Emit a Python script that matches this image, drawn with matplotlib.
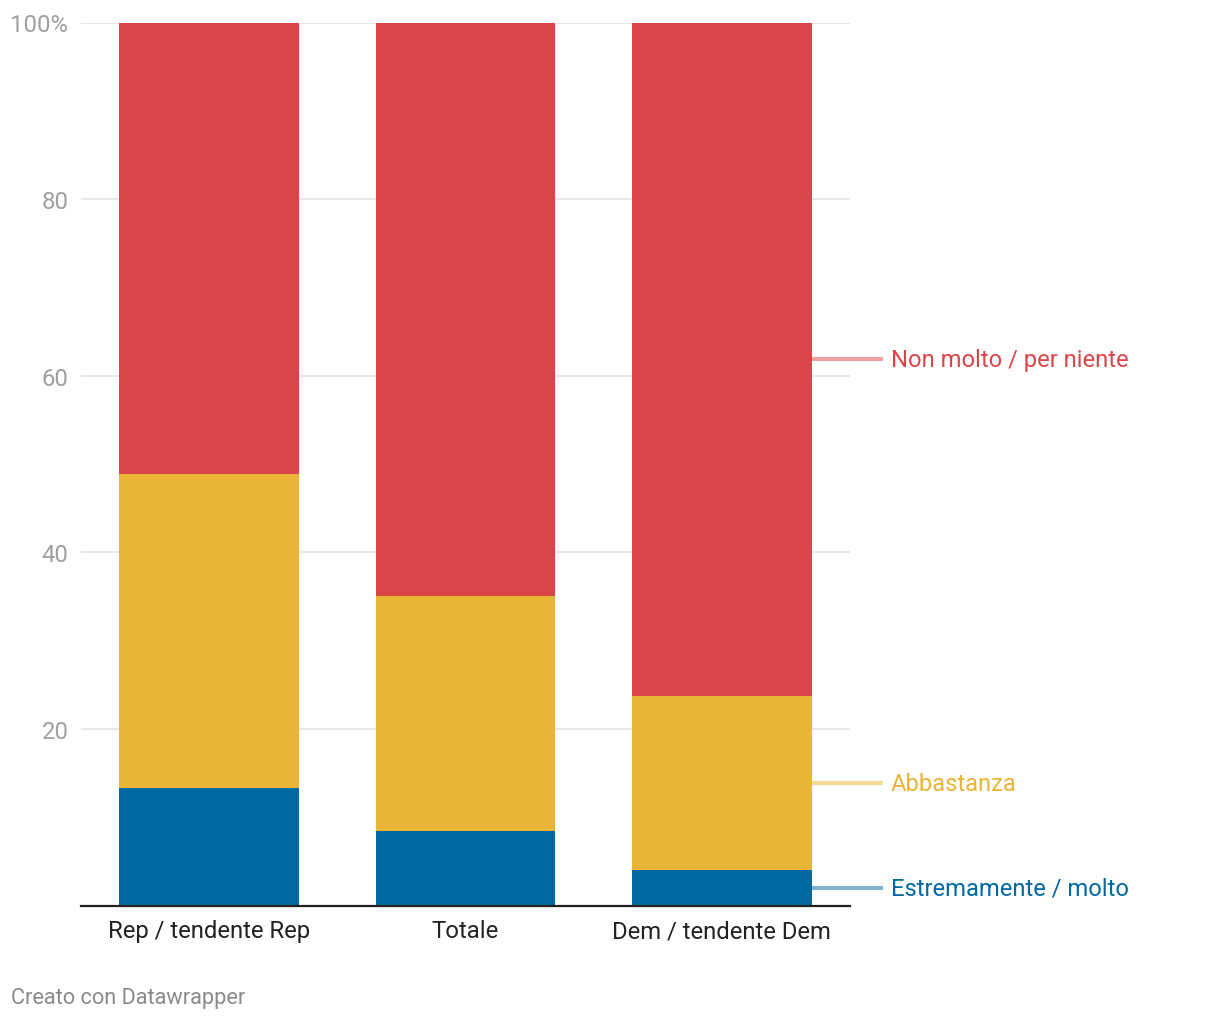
import numpy as np
import matplotlib.pyplot as plt

# Data
categories = ["Rep / tendente Rep", "Totale", "Dem / tendente Dem"]
series_names = ["Estremamente / molto", "Abbastanza", "Non molto / per niente"]
molto = [13.3, 8.4, 4.0]
abbastanza = [35.6, 26.6, 19.7]
non_molto = [51.1, 65.0, 76.3]
colors = ["#0069a3", "#eab435", "#db4549"]
ytick_vals = [20, 40, 60, 80, 100]
ytick_labels = ["20", "40", "60", "80", "100%"]

plt.rcParams['font.family'] = ['Roboto', 'DejaVu Sans']

fig = plt.figure(figsize=(12.2, 10.2), dpi=100)
ax = fig.add_axes([81 / 1220, 1 - 906.5 / 1020, 769 / 1220, 883 / 1020])

x = np.arange(len(categories))
width = 0.70
bottom = np.zeros(len(categories))
series = [molto, abbastanza, non_molto]
for vals, col in zip(series, colors):
    ax.bar(x, vals, width, bottom=bottom, color=col, zorder=2, linewidth=0)
    bottom += np.array(vals)

ax.set_xlim(-0.5, len(categories) - 0.5)
ax.set_ylim(0, 100)

# grid
for v in ytick_vals:
    ax.axhline(v, color="#e3e3e3", lw=1.2, zorder=1)
ax.set_yticks(ytick_vals)
ax.set_yticklabels(ytick_labels, fontsize=17.2, color="#a0a0a0")
ax.tick_params(axis='y', length=0, pad=9)
ax.set_xticks(x)
ax.set_xticklabels(categories, fontsize=17.2, color="#222222")
ax.tick_params(axis='x', length=0, pad=10)

for s in ["top", "right", "left"]:
    ax.spines[s].set_visible(False)
ax.spines["bottom"].set_color("#222222")
ax.spines["bottom"].set_linewidth(1.6)
ax.spines["bottom"].set_zorder(3)

# direct labels next to last bar
last = len(categories) - 1
cum = 0
for name, vals, col in zip(series_names, series, colors):
    mid = cum + vals[last] / 2
    cum += vals[last]
    ax.plot([last + width / 2, 2.63], [mid, mid], color=col, alpha=0.5, lw=3,
            clip_on=False, solid_capstyle="butt")
    ax.text(2.66, mid, name, color=col, fontsize=17.1, va="center", ha="left",
            clip_on=False)

fig.text(11 / 1220, 1 - 999 / 1020, "Creato con Datawrapper", fontsize=15.7,
         color="#8a8a8a", va="center", ha="left")

fig.savefig("out.png", dpi=100)
